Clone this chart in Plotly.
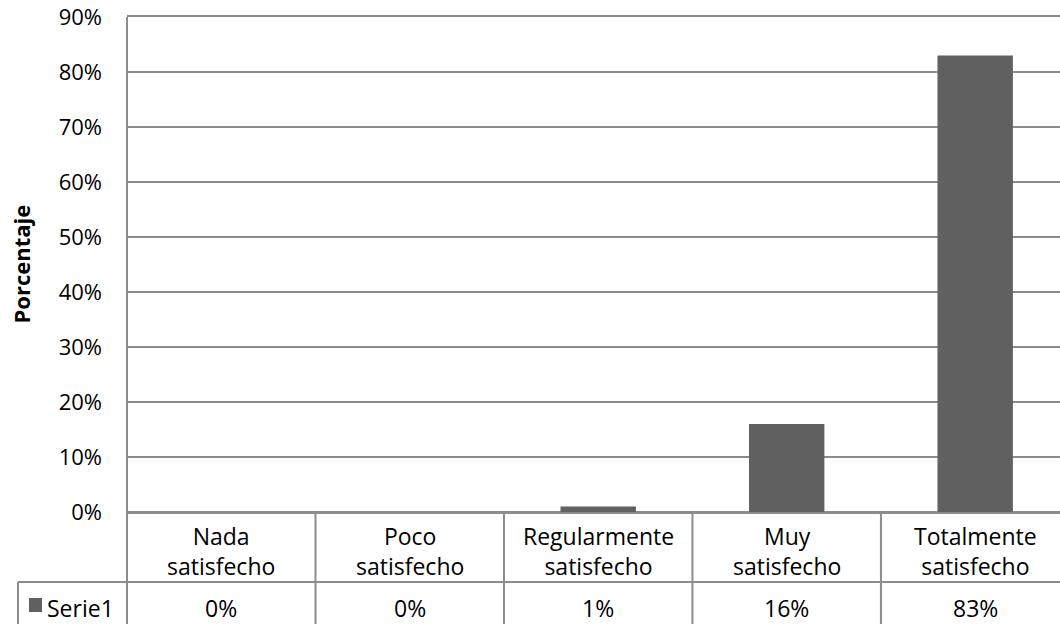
import plotly.graph_objects as go

categories = ["Nada<br>satisfecho", "Poco<br>satisfecho", "Regularmente<br>satisfecho",
              "Muy<br>satisfecho", "Totalmente<br>satisfecho"]
values = [0, 0, 1, 16, 83]
series_name = "Serie1"
y_ticks = [0, 10, 20, 30, 40, 50, 60, 70, 80, 90]
y_tick_labels = [f"{t}%" for t in y_ticks]

W, H = 1060, 624
ML, MR, MT, MB = 127, 0, 17, 112
BAR_COLOR = "#616161"
LINE_COLOR = "#8c8c8c"
FONT = "Open Sans"
FS = 23

x_range = [-0.5, 4.45]
y_range = [0, 90]
plot_w = W - ML - MR
plot_h = H - MT - MB

def px_to_paper_x(px):
    return (px - ML) / plot_w

def px_to_paper_y(py):
    return (H - MB - py) / plot_h

def xval_to_paper(v):
    return (v - x_range[0]) / (x_range[1] - x_range[0])

xs = list(range(len(values)))

fig = go.Figure()
fig.add_trace(go.Bar(x=xs, y=values, width=0.4, marker=dict(color=BAR_COLOR, line=dict(width=0)),
                     name=series_name, showlegend=False))

shapes = []
line = dict(color=LINE_COLOR, width=2)
# left axis line extended down through table
shapes.append(dict(type="line", xref="paper", yref="paper", x0=0, x1=0,
                   y0=1, y1=px_to_paper_y(H + 10), line=line, layer="above"))
# column separators in table
for i in range(len(values) - 1):
    xp = xval_to_paper(i + 0.5)
    shapes.append(dict(type="line", xref="paper", yref="paper", x0=xp, x1=xp,
                       y0=0, y1=px_to_paper_y(H + 10), line=line))
# row separator
shapes.append(dict(type="line", xref="paper", yref="paper", x0=px_to_paper_x(18), x1=1,
                   y0=px_to_paper_y(582), y1=px_to_paper_y(582), line=line))
# left border of legend cell
shapes.append(dict(type="line", xref="paper", yref="paper", x0=px_to_paper_x(18), x1=px_to_paper_x(18),
                   y0=px_to_paper_y(582), y1=px_to_paper_y(H + 10), line=line))
# legend key square
shapes.append(dict(type="rect", xref="paper", yref="paper", x0=px_to_paper_x(29), x1=px_to_paper_x(42),
                   y0=px_to_paper_y(612), y1=px_to_paper_y(598), fillcolor=BAR_COLOR,
                   line=dict(width=0)))

annotations = []
for i, (c, v) in enumerate(zip(categories, values)):
    annotations.append(dict(x=i, xref="x", y=px_to_paper_y(551), yref="paper", text=c,
                            showarrow=False, xanchor="center", yanchor="middle",
                            font=dict(family=FONT, size=FS, color="#000000")))
    annotations.append(dict(x=i, xref="x", y=px_to_paper_y(608), yref="paper", text=f"{v}%",
                            showarrow=False, xanchor="center", yanchor="middle",
                            font=dict(family=FONT, size=FS, color="#000000")))
annotations.append(dict(x=px_to_paper_x(45), xref="paper", y=px_to_paper_y(608), yref="paper",
                        text=series_name, showarrow=False, xanchor="left", yanchor="middle",
                        font=dict(family=FONT, size=FS, color="#000000")))
annotations.append(dict(x=px_to_paper_x(20), xref="paper", y=0.5, yref="paper",
                        text="<b>Porcentaje</b>", textangle=-90, showarrow=False,
                        xanchor="center", yanchor="middle",
                        font=dict(family=FONT, size=FS - 1, color="#000000")))

fig.update_layout(
    width=W, height=H,
    margin=dict(l=ML, r=MR, t=MT, b=MB, pad=0),
    paper_bgcolor="white", plot_bgcolor="white",
    font=dict(family=FONT, size=FS, color="#000000"),
    xaxis=dict(range=x_range, showgrid=False, zeroline=False, showticklabels=False,
               ticks="", showline=True, mirror=True, linecolor=LINE_COLOR, linewidth=2,
               fixedrange=True),
    yaxis=dict(range=y_range, tickmode="array", tickvals=y_ticks, ticktext=y_tick_labels,
               showgrid=True, gridcolor=LINE_COLOR, gridwidth=2, zeroline=True,
               zerolinecolor=LINE_COLOR, zerolinewidth=2, showline=False, ticks="",
               ticklabelstandoff=24,
               tickfont=dict(family=FONT, size=FS - 1, color="#000000")),
    shapes=shapes,
    annotations=annotations,
    bargap=0.6,
    showlegend=False,
)

fig.write_html("out.html")
